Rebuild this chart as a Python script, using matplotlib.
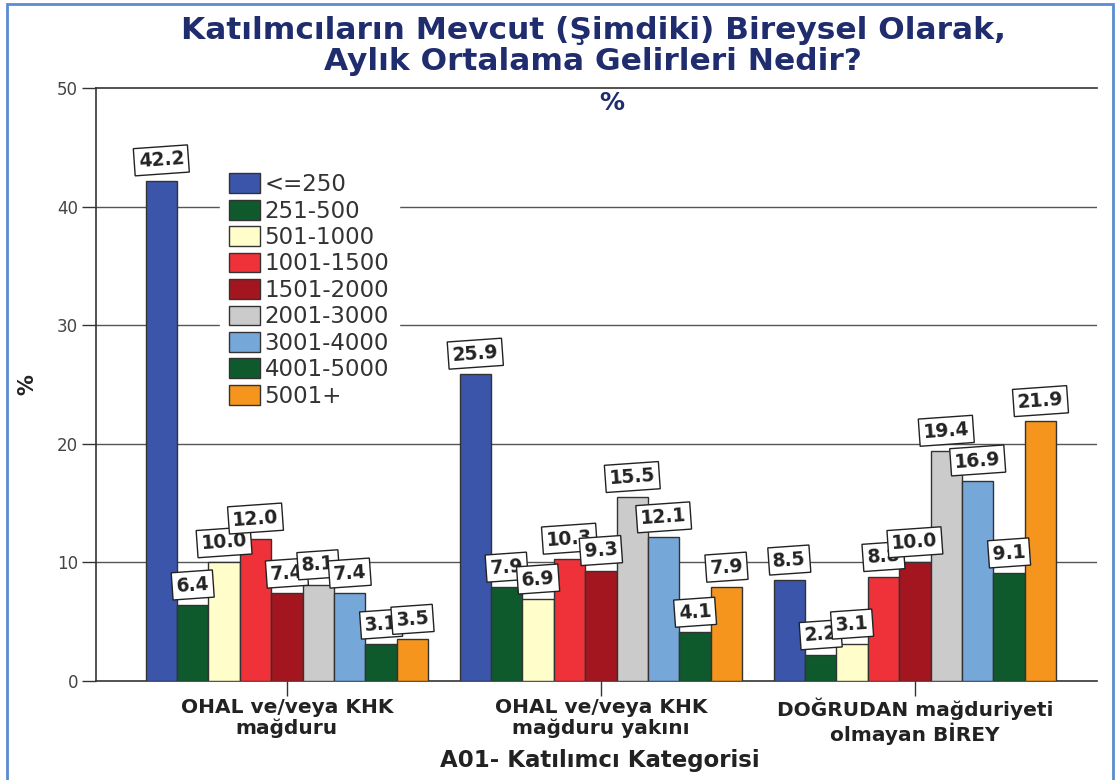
import matplotlib
matplotlib.use("Agg")
import matplotlib.pyplot as plt
import numpy as np
from matplotlib.patches import Rectangle

categories = ["OHAL ve/veya KHK\nmağduru", "OHAL ve/veya KHK\nmağduru yakını",
              "DOĞRUDAN mağduriyeti\nolmayan BİREY"]
series = ["<=250", "251-500", "501-1000", "1001-1500", "1501-2000",
          "2001-3000", "3001-4000", "4001-5000", "5001+"]
values = {
    "<=250":     [42.2, 25.9, 8.5],
    "251-500":   [6.4, 7.9, 2.2],
    "501-1000":  [10.0, 6.9, 3.1],
    "1001-1500": [12.0, 10.3, 8.8],
    "1501-2000": [7.4, 9.3, 10.0],
    "2001-3000": [8.1, 15.5, 19.4],
    "3001-4000": [7.4, 12.1, 16.9],
    "4001-5000": [3.1, 4.1, 9.1],
    "5001+":     [3.5, 7.9, 21.9],
}
colors = ["#3A55A9", "#0F5A2C", "#FFFDC9", "#EF3139", "#A3161F",
          "#CBCBCB", "#75A7D9", "#0F5A2C", "#F5951D"]
yticks = [0, 10, 20, 30, 40, 50]

W, H = 1117, 780
fig = plt.figure(figsize=(W / 100, H / 100), dpi=100)
ax = fig.add_axes([96 / W, 1 - 681 / H, (1097 - 96) / W, (681 - 88) / H])

sans = ["DejaVu Sans"]
navy = "#1F2C6E"
txt = "#222222"

x = np.arange(len(categories))
bw = 0.1
n = len(series)
for i, s in enumerate(series):
    off = (i - (n - 1) / 2) * bw
    ax.bar(x + off, values[s], width=bw, color=colors[i],
           edgecolor="#333333", linewidth=1.0, label=s, zorder=3)
    for xi, v in zip(x + off, values[s]):
        ax.annotate(f"{v:.1f}", (xi, v), xytext=(0, 14.5), textcoords="offset points",
                    ha="center", va="center", fontsize=13.5, fontweight="bold",
                    family=sans, rotation=4, zorder=5, color=txt,
                    bbox=dict(boxstyle="square,pad=0.22", fc="white", ec="#222222", lw=1.0))

ax.set_xlim(-0.608, 2.58)
ax.set_ylim(0, 50)
ax.set_yticks(yticks)
ax.set_yticklabels([str(t) for t in yticks], family=sans, fontsize=12, color="#444444")
ax.set_xticks(x)
ax.set_xticklabels(categories, family=sans, fontsize=14.5, fontweight="bold", color=txt,
                   linespacing=1.12)
ax.tick_params(axis="x", length=11, width=1, color="#333333", pad=1)
ax.tick_params(axis="y", length=10, width=1, color="#333333", pad=3)
for yv in [10, 20, 30, 40]:
    ax.axhline(yv, color="#555555", lw=1.0, zorder=1)
ax.spines["right"].set_visible(False)
for sp in ["left", "top", "bottom"]:
    ax.spines[sp].set_color("#333333")
    ax.spines[sp].set_linewidth(1.2)

ax.set_ylabel("%", family=sans, fontsize=15, fontweight="bold", labelpad=14, color=txt)
ax.set_xlabel("A01- Katılımcı Kategorisi", family=sans, fontsize=16.5,
              fontweight="bold", color=txt, va="center")
ax.xaxis.set_label_coords((600 - 96) / 1001, -(761 - 681) / 593)
ax.text(0.515, 0.975, "%", transform=ax.transAxes, ha="center", va="center",
        fontsize=18, fontweight="bold", color=navy, family=sans)

leg = ax.legend(loc="upper left", bbox_to_anchor=((220 - 96) / 1001, 1 - (164 - 88) / 593),
                borderaxespad=0, frameon=True,
                prop={"family": sans, "size": 16.5},
                handlelength=1.35, handleheight=0.95, handletextpad=0.2,
                labelspacing=0.15, borderpad=0.4, fancybox=False)
leg.get_frame().set_edgecolor("white")
leg.get_frame().set_facecolor("white")
leg.get_frame().set_alpha(1)
leg.set_zorder(4)
for t in leg.get_texts():
    t.set_color("#333333")

fig.text(0.531, 1 - 46 / H, "Katılmcıların Mevcut (Şimdiki) Bireysel Olarak,\nAylık Ortalama Gelirleri Nedir?",
         ha="center", va="center", fontsize=22.5, fontweight="bold", color=navy,
         family=sans, linespacing=1.08)

fig.patches.append(Rectangle((7 / W, -0.01), (1113 - 7) / W, 1 - 4 / H + 0.01,
                             transform=fig.transFigure, fill=False, ec="#5B8BD1", lw=2))

fig.savefig("out.png", dpi=100)
